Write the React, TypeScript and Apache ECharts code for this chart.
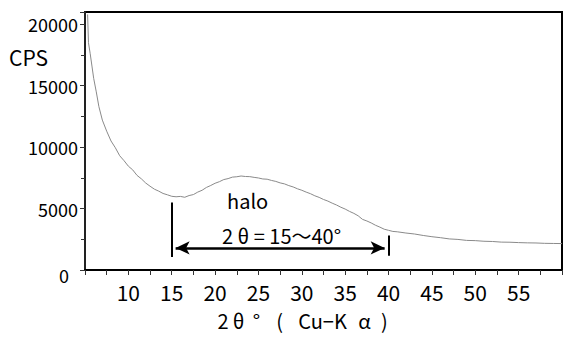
import React, { useEffect, useRef } from "react";
import * as echarts from "echarts";

const FONT = "'Noto Sans CJK JP', 'DejaVu Sans', sans-serif";

// 2θ (degrees)
const twoTheta = [
  5.3, 5.4, 5.6, 5.8, 6.0, 6.3, 6.6, 7.0, 7.5, 8.0, 8.5, 9.0, 9.5, 10.0, 10.5, 11.0, 11.5, 12.0,
  12.5, 13.0, 13.5, 14.0, 14.5, 15.0, 15.5, 16.0, 16.5, 17.0, 17.5, 18.0, 18.5, 19.0, 19.5, 20.0,
  20.5, 21.0, 21.5, 22.0, 22.5, 23.0, 23.5, 24.0, 24.5, 25.0, 25.5, 26.0, 26.5, 27.0, 27.5, 28.0,
  28.5, 29.0, 29.5, 30.0, 30.5, 31.0, 31.5, 32.0, 32.5, 33.0, 33.5, 34.0, 34.5, 35.0, 35.5, 36.0,
  36.5, 37.0, 37.5, 38.0, 38.5, 39.0, 39.5, 40.0, 40.5, 41.0, 42.0, 43.0, 44.0, 45.0, 46.0, 47.0,
  48.0, 49.0, 50.0, 51.0, 52.0, 53.0, 54.0, 55.0, 56.0, 57.0, 58.0, 59.0, 60.0,
];
// intensity (CPS)
const cps = [
  20800, 18500, 17600, 16600, 15600, 14500, 13300, 12200, 11300, 10500, 9950, 9300, 8900, 8450, 8150, 7700, 7420, 7080,
  6820, 6580, 6420, 6230, 6120, 6000, 5960, 5990, 5920, 6060, 6140, 6340, 6490, 6720, 6880, 7060,
  7190, 7360, 7440, 7560, 7590, 7650, 7610, 7600, 7540, 7490, 7410, 7390, 7290, 7210, 7090, 7010,
  6870, 6760, 6610, 6490, 6340, 6210, 6040, 5910, 5740, 5610, 5440, 5290, 5110, 4960, 4770, 4610,
  4410, 4120, 3990, 3830, 3640, 3490, 3320, 3230, 3140, 3110, 3010, 2930, 2810, 2710, 2630, 2530,
  2490, 2410, 2390, 2340, 2320, 2270, 2260, 2230, 2210, 2200, 2170, 2160, 2150,
];

const xTickLabels = ["10", "15", "20", "25", "30", "35", "40", "45", "50", "55"];
const yTickLabels = ["0", "5000", "10000", "15000", "20000"];

const haloRange = [15, 40];
const haloLabel = "2 θ = 15～40°";

export default function App() {
  const ref = useRef<HTMLDivElement>(null);
  useEffect(() => {
    if (!ref.current) return;
    const chart = echarts.init(ref.current, null, { renderer: "svg" });
    const data = twoTheta.map((x, i) => [x, cps[i]]);
    const seg = (width: number, align: string) => ({
      width,
      align,
      fontSize: 20,
      lineHeight: 20,
      color: "#000",
      fontFamily: FONT,
    });
    chart.setOption({
      animation: false,
      textStyle: { fontFamily: FONT },
      grid: {
        left: 85,
        right: -6,
        top: 12,
        bottom: 68,
        show: true,
        borderColor: "#000",
        borderWidth: 2,
        backgroundColor: "transparent",
      },
      xAxis: {
        type: "value",
        min: 5,
        max: 60,
        interval: 5,
        name: "{a|2}{b|θ}{c|°}{d|(}{e|Cu−K}{f|α}{g|)}{z| }",
        nameLocation: "middle",
        nameGap: 40,
        nameTextStyle: {
          fontSize: 20,
          lineHeight: 20,
          color: "#000",
          fontFamily: FONT,
          rich: {
            a: seg(14, "left"),
            b: seg(14, "center"),
            c: seg(22, "right"),
            d: seg(24, "right"),
            e: seg(62, "right"),
            f: seg(22, "center"),
            g: seg(18, "right"),
            z: seg(36, "left"),
          },
        },
        axisLine: { show: true, lineStyle: { color: "#000", width: 2 } },
        axisTick: { show: true, length: 5, lineStyle: { color: "#333", width: 1 } },
        minorTick: { show: true, splitNumber: 2, length: 5, lineStyle: { color: "#333", width: 1 } },
        splitLine: { show: false },
        axisLabel: {
          fontSize: 21,
          lineHeight: 21,
          color: "#000",
          margin: 11,
          fontFamily: FONT,
          formatter: (v: number) => (xTickLabels.includes(String(v)) ? String(v) : ""),
        },
      },
      yAxis: {
        type: "value",
        min: 0,
        max: 21000,
        interval: 5000,
        axisLine: { show: true, lineStyle: { color: "#222", width: 2 } },
        axisTick: { show: true, length: 5, lineStyle: { color: "#333", width: 1 } },
        minorTick: { show: true, splitNumber: 2, length: 4, lineStyle: { color: "#333", width: 1 } },
        splitLine: { show: false },
        axisLabel: {
          fontSize: 18,
          color: "#000",
          margin: 7,
          fontFamily: FONT,
          formatter: (v: number) => {
            const s = String(v);
            if (!yTickLabels.includes(s)) return "";
            return v === 0 ? "{z|0}" : s;
          },
          rich: {
            z: {
              fontSize: 18,
              color: "#000",
              fontFamily: FONT,
              padding: [9, 9, 0, 0],
            },
          },
        },
      },
      graphic: [
        {
          type: "text",
          left: 9,
          top: 46,
          style: { text: "CPS", fontSize: 21, fill: "#000", fontFamily: FONT },
        },
        {
          type: "text",
          left: 227,
          top: 190,
          style: { text: "halo", fontSize: 20, fill: "#000", fontFamily: FONT },
        },
        {
          type: "text",
          left: 222,
          top: 225,
          style: { text: haloLabel, fontSize: 20, fill: "#000", fontFamily: FONT },
        },
      ],
      series: [
        {
          type: "line",
          data,
          showSymbol: false,
          symbol: "none",
          lineStyle: { color: "#8a8a8a", width: 1 },
          silent: true,
          clip: true,
          markLine: {
            silent: true,
            animation: false,
            label: { show: false },
            lineStyle: { color: "#000", width: 2, type: "solid" },
            data: [
              [
                { coord: [haloRange[0], 5500], symbol: "none" },
                { coord: [haloRange[0], 1050], symbol: "none" },
              ],
              [
                { coord: [haloRange[1], 2800], symbol: "none" },
                { coord: [haloRange[1], 1150], symbol: "none" },
              ],
              [
                { coord: [haloRange[0] + 0.45, 1800], symbol: "arrow", symbolSize: [10, 14] },
                {
                  coord: [haloRange[1] - 0.45, 1800],
                  symbol: "arrow",
                  symbolSize: [10, 14],
                  lineStyle: { width: 2.5 },
                },
              ],
            ],
          },
        },
      ],
    });
    return () => chart.dispose();
  }, []);
  return (
    <div
      ref={ref}
      style={{ position: "fixed", left: 0, top: 0, width: 565, height: 338, background: "#fff" }}
    />
  );
}
